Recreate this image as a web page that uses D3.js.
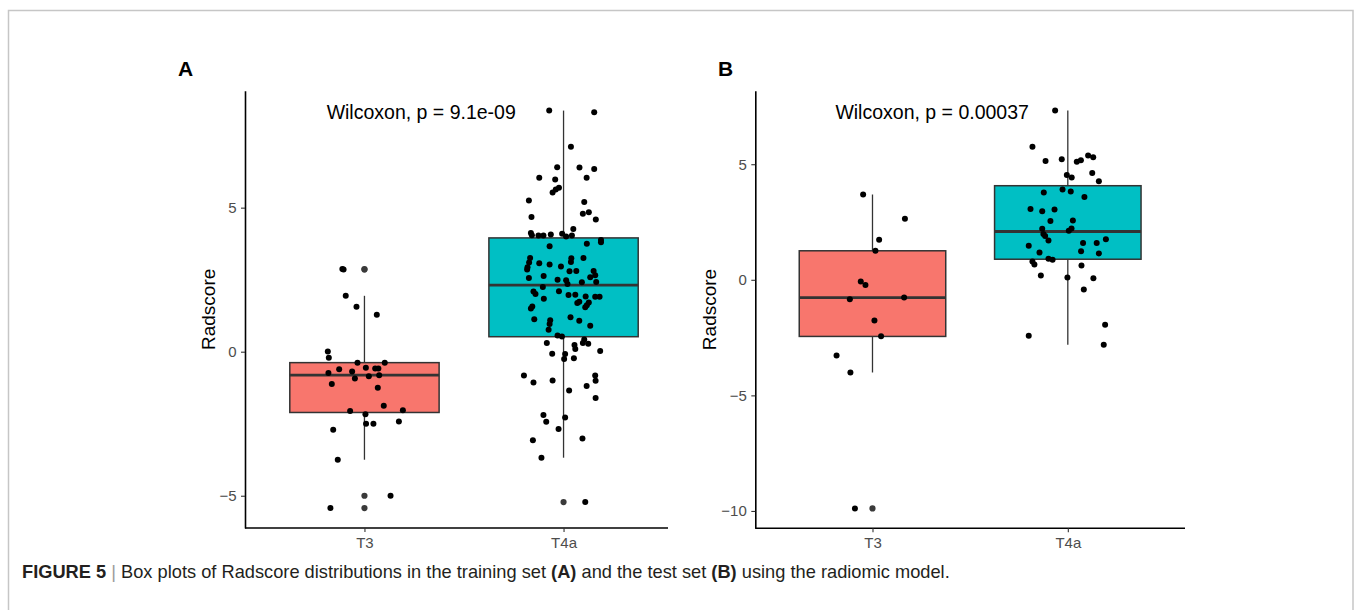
<!DOCTYPE html>
<html>
<head>
<meta charset="utf-8">
<script src="https://cdn.jsdelivr.net/npm/d3@7"></script>
<style>
  body { margin: 0; background: #fff; }
  svg { display: block; }
  text { font-family: "Liberation Sans", Arial, sans-serif; }
</style>
</head>
<body>
<div id="chart-container"></div>
<script>
// categories
var groups = ["T3", "T4a"];

// points: [Radscore, horizontal jitter in category units]
var trainT3 = [[2.87,-0.111],[2.85,-0.105],[1.94,-0.094],[1.56,-0.040],[1.28,0.062],[0.01,-0.184],[-0.21,-0.179],
  [-0.38,-0.035],[-0.38,0.102],[-0.61,-0.127],[-0.74,-0.181],[-0.69,-0.062],[-0.56,0.007],[-0.58,0.054],[-0.58,0.070],
  [-0.93,-0.048],[-0.85,0.022],[-0.82,0.074],[-1.12,-0.164],[-1.25,0.067],[-1.88,0.097],[-2.06,-0.072],[-2.03,0.193],
  [-2.17,0.005],[-2.50,0.008],[-2.50,0.045],[-2.42,0.173],[-2.71,-0.157],[-3.75,-0.134],[-5.00,0.131],[-5.43,-0.171]];

var trainT4a = [[8.37,-0.072],[8.31,0.154],[7.11,0.037],[6.40,-0.032],[6.39,0.080],[6.34,0.154],[6.04,-0.122],
  [5.98,-0.042],[6.04,0.116],[5.69,-0.023],[5.63,-0.039],[5.53,-0.055],[5.25,-0.174],[5.20,0.104],[4.68,-0.161],
  [4.79,0.097],[4.84,0.127],[4.59,0.162],[4.26,0.049],
  [4.12,-0.164],[4.04,-0.159],[4.03,-0.126],[4.03,-0.101],[4.07,-0.064],[4.09,-0.007],[4.00,0.013],[4.03,0.042],
  [3.88,0.188],[3.80,0.188],
  [3.66,-0.070],[3.75,0.117],[3.25,-0.168],[3.10,-0.173],[2.93,-0.181],[2.85,-0.183],[3.07,-0.122],[3.03,-0.070],
  [2.96,-0.013],[3.24,0.039],[3.11,0.037],[3.25,0.100],[2.79,0.030],[2.80,0.064],[2.80,0.151],[2.65,0.159],
  [2.58,0.134],[2.63,-0.100],[2.56,-0.174],[2.50,-0.030],[2.48,0.013],[2.35,0.020],[2.41,0.092],[2.42,0.164],
  [2.25,-0.104],[2.09,-0.151],[2.00,-0.141],[2.10,-0.023],[1.97,0.025],[1.98,0.059],[1.92,0.111],[1.91,0.159],
  [1.91,0.181],[1.84,-0.099],[1.69,0.069],[1.73,0.079],[1.71,0.127],[1.57,-0.157],[1.50,-0.164],[1.54,0.109],
  [1.61,0.117],[1.13,-0.147],[1.20,0.035],[1.09,-0.067],[0.96,-0.070],[1.07,0.079],[0.76,-0.075],[0.90,0.134],
  [0.56,-0.030],[0.53,-0.008],
  [0.30,-0.084],[0.42,0.104],[0.30,0.097],[0.28,0.124],[0.23,0.055],[0.09,0.059],[0.02,0.184],[-0.07,-0.057],
  [-0.08,0.008],[-0.25,0.003],[-0.23,0.052],[-0.83,-0.199],[-1.07,-0.151],[-1.00,-0.055],[-0.83,0.159],[-1.01,0.161],
  [-1.19,0.116],[-1.35,0.028],[-1.61,0.161],[-2.20,-0.101],[-2.43,-0.087],[-2.28,0.008],[-2.68,-0.025],[-3.07,-0.154],
  [-3.01,0.095],[-3.68,-0.111],[-5.22,0.109]];

var testT3 = [[3.69,-0.048],[2.64,0.166],[1.73,0.034],[1.255,0.015],[-0.07,-0.060],[-0.22,-0.036],[-0.84,-0.116],
  [-0.77,0.162],[-1.76,0.010],[-2.44,0.044],[-3.27,-0.184],[-4.01,-0.113],[-9.89,-0.090]];

var testT4a = [[7.32,-0.065],[5.76,-0.181],[5.14,-0.114],[5.22,-0.031],[5.11,0.046],[5.17,0.067],[5.38,0.104],
  [5.30,0.130],[4.53,-0.005],[4.43,0.020],[4.62,0.125],[4.26,0.159],[3.78,-0.123],[3.91,-0.027],[3.82,0.015],
  [3.58,0.085],[3.06,-0.191],[2.97,-0.131],[3.04,-0.068],[2.54,-0.089],[2.57,0.026],[2.21,-0.131],[1.98,-0.125],
  [1.90,-0.116],[2.12,0.005],[2.22,0.019],[1.70,-0.099],[1.47,-0.200],[1.18,-0.145],[1.59,0.078],[1.59,0.148],
  [1.75,0.195],[1.24,0.068],[1.14,0.159],[0.91,-0.099],[0.87,-0.078],[0.79,-0.181],[0.66,-0.171],[0.62,0.070],
  [0.19,-0.138],[0.10,-0.002],[0.07,0.131],[-0.42,0.082],[-1.95,0.191],[-2.42,-0.200],[-2.81,0.184]];

// box stats: [lower whisker, Q1, median, Q3, upper whisker]
var trainBox = [[-3.75, -2.11, -0.81, -0.38, 1.94], [-3.68, 0.52, 2.31, 3.95, 8.37]];
var testBox = [[-4.01, -2.45, -0.77, 1.255, 3.69], [-2.81, 0.89, 2.09, 4.07, 7.32]];

var trainTicks = [-5, 0, 5];
var testTicks = [-10, -5, 0, 5];
var pLabels = ["Wilcoxon, p = 9.1e-09", "Wilcoxon, p = 0.00037"];
var panelLetters = ["A", "B"];
var fills = ["#F8766D", "#00BFC4"];

var width = 1356, height = 610;

var svg = d3.select("#chart-container")
    .append("svg")
    .attr("width", width)
    .attr("height", height);

// figure frame
svg.append("rect")
    .attr("x", 8.5).attr("y", 10.5)
    .attr("width", 1344.5).attr("height", 640)
    .attr("fill", "none")
    .attr("stroke", "#c6c6c6")
    .attr("stroke-width", 1.5);

function drawPanel(cfg) {
    var g = svg.append("g");
    var x = d3.scalePoint()
        .domain(groups)
        .range([cfg.left, cfg.right])
        .padding(0.6);
    var step = x.step();

    var allVals = cfg.points[0].concat(cfg.points[1]).map(function (d) { return d[0]; });
    var ext = d3.extent(allVals);
    var pad = (ext[1] - ext[0]) * 0.05;
    var y = d3.scaleLinear()
        .domain([ext[0] - pad, ext[1] + pad])
        .range([cfg.bottom, cfg.top]);

    var bw = step * 0.75;

    groups.forEach(function (grp, i) {
        var s = cfg.box[i];
        var cx = x(grp);
        // whiskers
        g.append("line")
            .attr("x1", cx).attr("x2", cx)
            .attr("y1", y(s[4])).attr("y2", y(s[3]))
            .attr("stroke", "#333").attr("stroke-width", 1.3);
        g.append("line")
            .attr("x1", cx).attr("x2", cx)
            .attr("y1", y(s[1])).attr("y2", y(s[0]))
            .attr("stroke", "#333").attr("stroke-width", 1.3);
        g.append("rect")
            .attr("x", cx - bw / 2)
            .attr("y", y(s[3]))
            .attr("width", bw)
            .attr("height", y(s[1]) - y(s[3]))
            .attr("fill", fills[i])
            .attr("stroke", "#333")
            .attr("stroke-width", 1.5);
        g.append("line")
            .attr("x1", cx - bw / 2).attr("x2", cx + bw / 2)
            .attr("y1", y(s[2])).attr("y2", y(s[2]))
            .attr("stroke", "#333").attr("stroke-width", 2.8);

        // boxplot outliers at the group centre
        var outl = cfg.points[i].filter(function (d) { return d[0] > s[4] || d[0] < s[0]; });
        g.selectAll(null).data(outl).enter().append("circle")
            .attr("cx", cx)
            .attr("cy", function (d) { return y(d[0]); })
            .attr("r", 3.1)
            .attr("fill", "#3a3a3a");
    });

    // jittered points
    groups.forEach(function (grp, i) {
        g.selectAll(null).data(cfg.points[i]).enter().append("circle")
            .attr("cx", function (d) { return x(grp) + d[1] * step; })
            .attr("cy", function (d) { return y(d[0]); })
            .attr("r", 3)
            .attr("fill", "#000");
    });

    // axes
    var yAxis = g.append("g")
        .attr("transform", "translate(" + cfg.left + ",0)")
        .call(d3.axisLeft(y).tickValues(cfg.ticks).tickSize(4).tickSizeOuter(0).tickPadding(4.5));
    var xAxis = g.append("g")
        .attr("transform", "translate(0," + cfg.bottom + ")")
        .call(d3.axisBottom(x).tickSize(4).tickSizeOuter(0).tickPadding(5));
    // the x axis line stops where the reference panel does
    xAxis.select(".domain").attr("d", "M" + cfg.left + ",0H" + cfg.axisEnd);
    [yAxis, xAxis].forEach(function (a) {
        a.select(".domain").attr("stroke", "#000").attr("stroke-width", 1.6);
        a.selectAll(".tick line").attr("stroke", "#333").attr("stroke-width", 1.1);
        a.selectAll(".tick text")
            .attr("fill", "#4d4d4d")
            .style("font-size", "15px")
            .style("font-family", "'Liberation Sans', Arial, sans-serif");
    });

    // y title
    g.append("text")
        .attr("transform", "translate(" + cfg.titleX + "," + ((cfg.top + cfg.bottom) / 2) + ") rotate(-90)")
        .attr("text-anchor", "middle")
        .style("font-size", "19px")
        .attr("fill", "#000")
        .text("Radscore");

    // test label
    g.append("text")
        .attr("x", x(groups[0]) - 0.19 * step)
        .attr("y", cfg.top + 28.6)
        .style("font-size", "19.5px")
        .attr("fill", "#000")
        .text(cfg.label);

    g.append("text")
        .attr("x", cfg.letterX)
        .attr("y", 76)
        .style("font-size", "21px")
        .style("font-weight", "bold")
        .attr("fill", "#000")
        .text(cfg.letter);
}

drawPanel({left: 245, right: 683, axisEnd: 668, top: 90.7, bottom: 528, points: [trainT3, trainT4a], box: trainBox,
    ticks: trainTicks, label: pLabels[0], letter: panelLetters[0], letterX: 178, titleX: 215});
drawPanel({left: 755.3, right: 1185, axisEnd: 1185, top: 90.7, bottom: 528.3, points: [testT3, testT4a], box: testBox,
    ticks: testTicks, label: pLabels[1], letter: panelLetters[1], letterX: 718, titleX: 716});

// caption
var cap = svg.append("text")
    .attr("x", 0)
    .attr("y", 0)
    .style("font-size", "17.5px")
    .attr("fill", "#231f20");
cap.append("tspan").style("font-weight", "bold").text("FIGURE 5");
cap.append("tspan").attr("fill", "#9a9a9a").text(" | ");
cap.append("tspan").text("Box plots of Radscore distributions in the training set ");
cap.append("tspan").style("font-weight", "bold").text("(A)");
cap.append("tspan").text(" and the test set ");
cap.append("tspan").style("font-weight", "bold").text("(B)");
cap.append("tspan").text(" using the radiomic model.");
var capW = cap.node().getComputedTextLength();
cap.attr("transform", "translate(22,578) scale(" + (928 / capW) + ",1)");
</script>
</body>
</html>
